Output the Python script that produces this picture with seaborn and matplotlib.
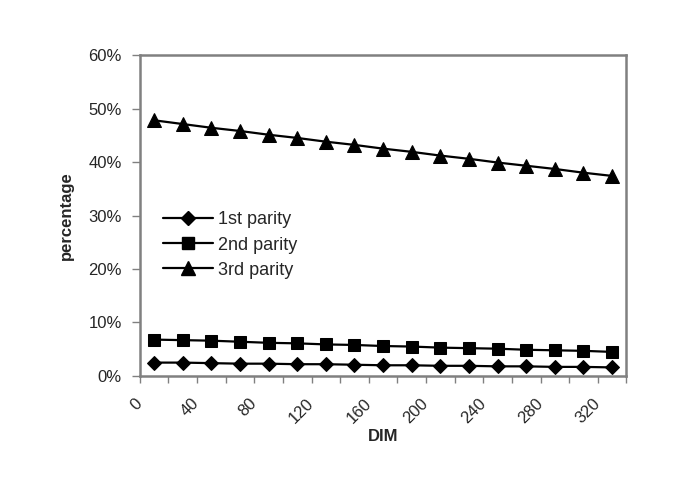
import numpy as np
import pandas as pd
import matplotlib
matplotlib.use("Agg")
import matplotlib.pyplot as plt
import seaborn as sns

# days in milk (category midpoints)
dim = [10, 30, 50, 70, 90, 110, 130, 150, 170, 190, 210, 230, 250, 270, 290, 310, 330]

# percentage per parity
first_parity = [2.5, 2.5, 2.4, 2.3, 2.3, 2.2, 2.2, 2.1, 2.0, 2.0, 1.9, 1.9, 1.8, 1.8, 1.7, 1.7, 1.6]
second_parity = [6.8, 6.7, 6.6, 6.4, 6.2, 6.1, 5.9, 5.8, 5.6, 5.5, 5.3, 5.2, 5.1, 4.9, 4.8, 4.7, 4.5]
third_parity = [47.8, 47.1, 46.4, 45.8, 45.1, 44.5, 43.8, 43.2, 42.5, 41.9, 41.2, 40.6, 39.9, 39.3, 38.7, 38.0, 37.4]

series_names = ["1st parity", "2nd parity", "3rd parity"]
x_ticks = list(range(0, 341, 20))
x_labels = [str(t) if t % 40 == 0 and t <= 320 else "" for t in x_ticks]
y_ticks = [0, 10, 20, 30, 40, 50, 60]

df = pd.DataFrame({
    "DIM": dim * 3,
    "percentage": first_parity + second_parity + third_parity,
    "parity": [series_names[0]] * len(dim) + [series_names[1]] * len(dim) + [series_names[2]] * len(dim),
})

sns.set_style("white")
plt.rcParams["font.family"] = ["Liberation Sans", "DejaVu Sans"]

fig = plt.figure(figsize=(6.85, 4.9), dpi=100)
ax = fig.add_axes([0.204, 0.2327, 0.7105, 0.655])

marker_map = {"1st parity": "D", "2nd parity": "s", "3rd parity": "^"}
marker_size = {"D": 7, "s": 9, "^": 9.5}

sns.lineplot(
    data=df, x="DIM", y="percentage", style="parity",
    markers=marker_map, dashes=False, color="black", linewidth=1.6,
    markersize=9, markeredgecolor="black", ax=ax, legend=False,
)
for line in ax.lines:
    line.set_markersize(marker_size.get(line.get_marker(), 9))

ax.set_xlim(0, 340)
ax.set_ylim(0, 60)
ax.set_xticks(x_ticks)
ax.set_xticklabels(x_labels, rotation=45, ha="right", va="center",
                   rotation_mode="anchor", fontsize=12)
ax.set_yticks(y_ticks)
ax.set_yticklabels([f"{v}%" for v in y_ticks], fontsize=12)

for s in ax.spines.values():
    s.set_color("#808080")
    s.set_linewidth(1.8)
ax.tick_params(axis="x", bottom=True, direction="out", length=5, width=1,
               color="#808080", pad=13)
ax.tick_params(axis="y", left=True, direction="out", length=6, width=1,
               color="#808080", pad=7)

ax.set_xlabel("DIM", fontsize=12, fontweight="bold")
ax.set_ylabel("percentage", fontsize=12, fontweight="bold")
ax.xaxis.set_label_coords(0.5, -0.165)
ax.yaxis.set_label_coords(-0.135, 0.5)

# legend built from the same marker styles
handles = [
    plt.Line2D([], [], color="black", linewidth=1.6, marker=marker_map[n],
               markersize=marker_size[marker_map[n]], markerfacecolor="black",
               markeredgecolor="black")
    for n in series_names
]
ax.legend(handles, series_names, loc="center left",
          bbox_to_anchor=(163 / 685, 1 - 245 / 490), bbox_transform=fig.transFigure,
          frameon=False, fontsize=13, handlelength=2.75, handletextpad=0.3,
          labelspacing=0.45, borderpad=0, borderaxespad=0)

fig.savefig("out.png", dpi=100)
